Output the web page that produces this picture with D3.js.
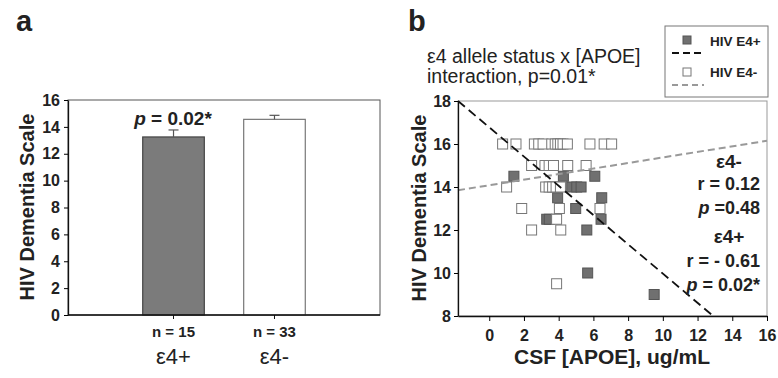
<!DOCTYPE html>
<html>
<head>
<meta charset="utf-8">
<script src="https://cdn.jsdelivr.net/npm/d3@7"></script>
<style>
  body { margin: 0; background: #fff; }
  svg { font-family: "Liberation Sans", Arial, sans-serif; }
</style>
</head>
<body>
<svg id="chart" width="778" height="378"></svg>
<script>
// ---- panel a data
const barCategories = ['ε4+', 'ε4-'];
const barCounts = ['n = 15', 'n = 33'];
const barMeans = [13.25, 14.56];
const barSem = [0.52, 0.3];
const barTicks = [0, 2, 4, 6, 8, 10, 12, 14, 16];

// ---- panel b data
const posX = [1.42, 4.27, 6.08, 4.75, 5.04, 5.29, 3.94, 6.48, 4.98, 3.31, 3.46, 6.44, 5.62, 5.67, 9.5];
const posY = [14.5, 14.5, 14.5, 14, 14, 14, 13.5, 13.5, 13, 12.5, 12.5, 12.5, 12, 10, 9];
const negX = [0.77, 1.54, 2.6, 2.85, 3.1, 3.6, 3.8, 3.95, 4.1, 4.25, 4.5, 5.8, 6.62, 7.05,
              2.44, 3.21, 3.45, 3.7, 4.52, 5.58,
              1.0, 3.25, 3.45, 3.65, 3.85, 4.1,
              1.87, 4.04, 6.38,
              3.88,
              2.44, 4.12,
              3.88];
const negY = [16, 16, 16, 16, 16, 16, 16, 16, 16, 16, 16, 16, 16, 16,
              15, 15, 15, 15, 15, 15,
              14, 14, 14, 14, 14, 14,
              13, 13, 13,
              12.5,
              12, 12,
              9.5];
const posFit = [[-1.8, 18], [12.9, 8]];
const negFit = [[-1.8, 13.85], [16, 16.15]];
const scatterXTicks = [0, 2, 4, 6, 8, 10, 12, 14, 16];
const scatterYTicks = [8, 10, 12, 14, 16, 18];

const svg = d3.select('#chart');
const ink = '#222';

// =================== panel a
const ya = d3.scaleLinear().domain([0, 16]).range([315, 100]);
const xa = d3.scaleBand().domain(barCategories).range([68, 380])
  .paddingInner(0.39).paddingOuter(0.74);

const ga = svg.append('g');
ga.append('text').attr('x', 16).attr('y', 31).text('a')
  .attr('font-size', 29).attr('font-weight', 'bold').attr('fill', ink);

// frame
ga.append('rect').attr('x', 68).attr('y', 100).attr('width', 312).attr('height', 215)
  .attr('fill', 'none').attr('stroke', '#555').attr('stroke-width', 1);

ga.selectAll('rect.bar').data(barMeans).join('rect')
  .attr('class', 'bar')
  .attr('x', (d, i) => xa(barCategories[i]))
  .attr('width', xa.bandwidth())
  .attr('y', d => ya(d))
  .attr('height', d => ya(0) - ya(d))
  .attr('fill', (d, i) => i === 0 ? '#7b7b7b' : '#fff')
  .attr('stroke', (d, i) => i === 0 ? '#444' : '#777')
  .attr('stroke-width', 1.2);

// error bars (upper only)
barMeans.forEach((m, i) => {
  const cx = xa(barCategories[i]) + xa.bandwidth() / 2;
  ga.append('line').attr('x1', cx).attr('x2', cx).attr('y1', ya(m)).attr('y2', ya(m + barSem[i]))
    .attr('stroke', '#555').attr('stroke-width', 1.2);
  ga.append('line').attr('x1', cx - 5).attr('x2', cx + 5).attr('y1', ya(m + barSem[i])).attr('y2', ya(m + barSem[i]))
    .attr('stroke', '#555').attr('stroke-width', 1.2);
});

const axA = ga.append('g').attr('transform', 'translate(68,0)')
  .call(d3.axisLeft(ya).tickValues(barTicks).tickSize(4).tickSizeOuter(0));
axA.select('.domain').attr('stroke', '#111').attr('stroke-width', 1.3);
axA.selectAll('text').attr('font-size', 16).attr('font-weight', 'bold').attr('fill', ink)
  .attr('font-family', '"Liberation Sans", Arial, sans-serif').attr('dx', -1);

const bxA = ga.append('g').attr('transform', 'translate(0,315)');
bxA.append('line').attr('x1', 68).attr('x2', 380).attr('stroke', '#111').attr('stroke-width', 1.3);
barCategories.forEach((c, i) => {
  const cx = xa(c) + xa.bandwidth() / 2;
  bxA.append('line').attr('x1', cx).attr('x2', cx).attr('y1', 0).attr('y2', 4).attr('stroke', '#111');
  ga.append('text').attr('x', cx).attr('y', 337).attr('text-anchor', 'middle')
    .attr('font-size', 15).attr('font-weight', 'bold').attr('fill', ink).text(barCounts[i]);
  ga.append('text').attr('x', cx).attr('y', 364).attr('text-anchor', 'middle')
    .attr('font-size', 22).attr('fill', ink).text(c);
});

ga.append('text').attr('transform', 'translate(34,207) rotate(-90)')
  .attr('text-anchor', 'middle').attr('font-size', 20).attr('font-weight', 'bold').attr('fill', ink)
  .text('HIV Dementia Scale');

const pa = ga.append('text').attr('x', 173).attr('y', 125).attr('text-anchor', 'middle')
  .attr('font-size', 19).attr('font-weight', 'bold').attr('fill', ink);
pa.append('tspan').attr('font-style', 'italic').text('p');
pa.append('tspan').text(' = 0.02*');

// =================== panel b
const xb = d3.scaleLinear().domain([-1.8, 16]).range([458, 767]);
const yb = d3.scaleLinear().domain([8, 18]).range([316, 101]);

const gb = svg.append('g');
gb.append('text').attr('x', 408).attr('y', 31).text('b')
  .attr('font-size', 29).attr('font-weight', 'bold').attr('fill', ink);

gb.append('text').attr('x', 427).attr('y', 63).attr('font-size', 19.5).attr('fill', ink)
  .text('ε4 allele status x [APOE]');
gb.append('text').attr('x', 427).attr('y', 83).attr('font-size', 19.5).attr('fill', ink)
  .text('interaction, p=0.01*');

gb.append('rect').attr('x', 458).attr('y', 101).attr('width', 309).attr('height', 215)
  .attr('fill', 'none').attr('stroke', '#999').attr('stroke-width', 1);

const sq = 10;
gb.selectAll('rect.pos').data(posX).join('rect').attr('class', 'pos')
  .attr('x', (d) => xb(d) - sq / 2).attr('y', (d, i) => yb(posY[i]) - sq / 2)
  .attr('width', sq).attr('height', sq)
  .attr('fill', '#707070').attr('stroke', '#555').attr('stroke-width', 1);
gb.selectAll('rect.neg').data(negX).join('rect').attr('class', 'neg')
  .attr('x', (d) => xb(d) - sq / 2).attr('y', (d, i) => yb(negY[i]) - sq / 2)
  .attr('width', sq).attr('height', sq)
  .attr('fill', '#fff').attr('stroke', '#777').attr('stroke-width', 1);

const fitLine = d3.line().x(d => xb(d[0])).y(d => yb(d[1]));
gb.append('path').attr('d', fitLine(negFit)).attr('fill', 'none')
  .attr('stroke', '#999').attr('stroke-width', 2).attr('stroke-dasharray', '7,4');
gb.append('path').attr('d', fitLine(posFit)).attr('fill', 'none')
  .attr('stroke', '#111').attr('stroke-width', 1.8).attr('stroke-dasharray', '9,5');

const axBy = gb.append('g').attr('transform', 'translate(458,0)')
  .call(d3.axisLeft(yb).tickValues(scatterYTicks).tickSize(4).tickSizeOuter(0));
axBy.select('.domain').attr('stroke', '#111').attr('stroke-width', 1.3);
axBy.selectAll('text').attr('font-size', 16).attr('font-weight', 'bold').attr('fill', ink)
  .attr('font-family', '"Liberation Sans", Arial, sans-serif');

const axBx = gb.append('g').attr('transform', 'translate(0,316)')
  .call(d3.axisBottom(xb).tickValues(scatterXTicks).tickSize(5).tickSizeOuter(0).tickPadding(9));
axBx.select('.domain').attr('stroke', '#111').attr('stroke-width', 1.3);
axBx.selectAll('text').attr('font-size', 16).attr('font-weight', 'bold').attr('fill', ink)
  .attr('font-family', '"Liberation Sans", Arial, sans-serif');

gb.append('text').attr('x', 612).attr('y', 364).attr('text-anchor', 'middle')
  .attr('font-size', 21).attr('font-weight', 'bold').attr('fill', ink).text('CSF [APOE], ug/mL');
gb.append('text').attr('transform', 'translate(426,208) rotate(-90)')
  .attr('text-anchor', 'middle').attr('font-size', 20).attr('font-weight', 'bold').attr('fill', ink)
  .text('HIV Dementia Scale');

// annotations
const ann = [
  { t: 'ε4-', y: 168, mid: true },
  { t: 'r = 0.12', y: 190 },
  { t: '=0.48', y: 214, p: 'p ' },
  { t: 'ε4+', y: 243, mid: true },
  { t: 'r = - 0.61', y: 267 },
  { t: '= 0.02*', y: 291, p: 'p ' }
];
ann.forEach(a => {
  const t = gb.append('text').attr('x', a.mid ? 729 : 760).attr('y', a.y)
    .attr('text-anchor', a.mid ? 'middle' : 'end')
    .attr('font-size', a.mid ? 19 : 18).attr('font-weight', 'bold').attr('fill', ink);
  if (a.p) t.append('tspan').attr('font-style', 'italic').text(a.p);
  t.append('tspan').text(a.t);
});

// legend
const lg = gb.append('g');
lg.append('rect').attr('x', 665).attr('y', 26).attr('width', 103).attr('height', 71)
  .attr('fill', '#fff').attr('stroke', '#777');
lg.append('rect').attr('x', 683).attr('y', 36).attr('width', 8).attr('height', 8)
  .attr('fill', '#707070').attr('stroke', '#555');
lg.append('line').attr('x1', 672).attr('x2', 704).attr('y1', 53).attr('y2', 53)
  .attr('stroke', '#111').attr('stroke-width', 1.8).attr('stroke-dasharray', '7,4');
lg.append('rect').attr('x', 683).attr('y', 68).attr('width', 8).attr('height', 8)
  .attr('fill', '#fff').attr('stroke', '#777');
lg.append('line').attr('x1', 672).attr('x2', 704).attr('y1', 85).attr('y2', 85)
  .attr('stroke', '#999').attr('stroke-width', 1.8).attr('stroke-dasharray', '6,4');
lg.append('text').attr('x', 710).attr('y', 46).attr('font-size', 13.5).attr('font-weight', 'bold')
  .attr('fill', ink).text('HIV E4+');
lg.append('text').attr('x', 710).attr('y', 77).attr('font-size', 13.5).attr('font-weight', 'bold')
  .attr('fill', ink).text('HIV E4-');
</script>
</body>
</html>
